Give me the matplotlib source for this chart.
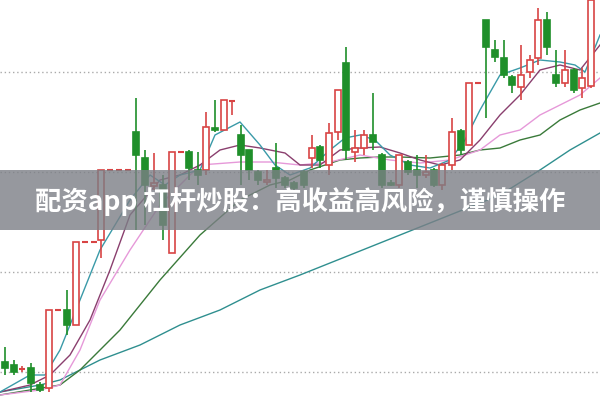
import matplotlib
matplotlib.use("Agg")
import matplotlib.pyplot as plt

plt.rcParams['font.family'] = ['Noto Sans CJK SC', 'DejaVu Sans']

# candles: x, open, close, high, low  (values read as screen y, converted below)
cx = [5, 14, 22, 31, 40, 49, 58, 67, 76, 85, 94, 101, 110, 119, 128, 136, 145, 154, 163, 172,
      181, 189, 198, 206, 215, 224, 232, 241, 249, 258, 267, 276, 285, 294, 304, 312, 320, 329,
      338, 346, 355, 364, 373, 382, 391, 399, 408, 417, 426, 434, 442, 452, 461, 469, 478, 486,
      495, 504, 512, 521, 530, 538, 547, 556, 565, 574, 582, 591]
y_open = [362, 365, 369, 368, 385, 388, 310, 310, 325, 242, 242, 240, 170, 170, 170, 132, 158, 186, 185, 253,
          152, 152, 170, 170, 128, 130, 101, 135, 150, 172, 182, 168, 178, 183, 172, 158, 147, 165,
          132, 63, 152, 148, 135, 155, 183, 185, 162, 170, 175, 170, 185, 165, 131, 145, 83, 20,
          50, 58, 77, 87, 72, 58, 20, 75, 83, 70, 88, 86]
y_close = [368, 372, 369, 383, 390, 310, 310, 325, 242, 242, 242, 170, 170, 170, 170, 155, 185, 183, 225, 152,
           152, 168, 175, 127, 130, 100, 100, 155, 170, 180, 180, 178, 185, 188, 185, 148, 160, 133,
           90, 150, 148, 135, 142, 185, 185, 155, 172, 175, 172, 185, 165, 132, 150, 83, 83, 47,
           57, 75, 85, 75, 60, 20, 47, 83, 70, 90, 78, 0]
y_high = [347, 360, 366, 363, 382, 310, 310, 290, 242, 242, 242, 170, 170, 170, 170, 98, 150, 153, 175, 152,
          152, 150, 152, 112, 100, 100, 100, 125, 150, 170, 170, 143, 176, 181, 170, 135, 145, 123,
          90, 47, 130, 130, 93, 153, 180, 155, 160, 155, 155, 168, 163, 118, 129, 83, 83, 20,
          40, 40, 75, 45, 55, 8, 12, 50, 50, 68, 68, 0]
y_low = [375, 375, 372, 392, 392, 392, 310, 335, 325, 242, 242, 258, 170, 170, 170, 230, 225, 190, 240, 253,
         152, 180, 185, 175, 132, 130, 115, 185, 180, 185, 185, 188, 188, 190, 188, 168, 168, 175,
         140, 160, 162, 155, 150, 188, 186, 188, 175, 188, 178, 187, 190, 170, 155, 145, 83, 118,
         62, 78, 93, 100, 78, 65, 55, 87, 87, 93, 98, 88]

# moving average lines: (x list, y list)
ma5_x = [0, 30, 45, 60, 80, 100, 130, 150, 165, 180, 200, 215, 240, 260, 275, 290, 310, 330, 345, 360,
         375, 390, 410, 430, 450, 465, 480, 500, 520, 540, 560, 575, 585, 600]
ma5_y = [392, 375, 375, 350, 300, 250, 200, 175, 185, 175, 170, 135, 122, 145, 165, 175, 168, 150, 138, 135,
         140, 155, 165, 168, 160, 140, 110, 75, 68, 60, 62, 65, 72, 35]
ma10_x = [0, 30, 50, 70, 90, 110, 130, 160, 180, 200, 220, 240, 260, 285, 300, 320, 340, 360, 380, 400,
          420, 440, 460, 480, 500, 520, 540, 560, 580, 600]
ma10_y = [392, 385, 375, 355, 320, 270, 215, 180, 175, 165, 150, 145, 148, 153, 165, 165, 150, 148, 147, 153,
          160, 165, 160, 140, 115, 95, 70, 65, 70, 45]
ma20_x = [0, 40, 60, 80, 100, 130, 160, 180, 200, 240, 270, 300, 330, 360, 390, 420, 450, 480, 500, 520,
          540, 560, 580, 600]
ma20_y = [395, 390, 385, 350, 300, 250, 205, 185, 165, 162, 162, 165, 162, 155, 160, 163, 160, 150, 135, 130,
          115, 105, 95, 78]
ma30_x = [0, 60, 80, 120, 160, 200, 240, 270, 290, 310, 340, 360, 380, 400, 430, 460, 480, 500, 520, 540,
          560, 580, 600]
ma30_y = [395, 385, 370, 330, 280, 235, 200, 185, 180, 170, 160, 158, 157, 157, 158, 155, 150, 148, 140, 135,
          120, 110, 103]
ma60_x = [0, 40, 60, 100, 140, 180, 220, 260, 300, 350, 400, 450, 500, 540, 570, 600]
ma60_y = [392, 385, 380, 360, 345, 325, 310, 290, 275, 255, 235, 215, 195, 170, 150, 133]

grid_levels = [72, 172, 272, 372]

def price(v):
    return 400 - v

fig = plt.figure(figsize=(6, 4), dpi=100)
ax = fig.add_axes([0, 0, 1, 1])
ax.set_xlim(0, 600)
ax.set_ylim(0, 400)
ax.axis("off")

for g in grid_levels:
    ax.axhline(price(g), color="#aaaaaa", lw=1, ls=(0, (1, 2)), zorder=0)

for xs, ys, col in [(ma60_x, ma60_y, "#2f8f8f"), (ma30_x, ma30_y, "#3a7a3a"),
                    (ma20_x, ma20_y, "#e699d9"), (ma10_x, ma10_y, "#8a3f6e"),
                    (ma5_x, ma5_y, "#3a9aa8")]:
    ax.plot(xs, [price(v) for v in ys], color=col, lw=1, zorder=1)

red = "#d84444"
green = "#1f8f2a"
w = 6.5
for x, o, c, h, l in zip(cx, y_open, y_close, y_high, y_low):
    o, c, h, l = price(o), price(c), price(h), price(l)
    col = red if c >= o else green
    ax.vlines(x, l, h, color=col, lw=1.2, zorder=2)
    lo, hi = min(o, c), max(o, c)
    if hi - lo < 1.5:
        ax.hlines(o, x - w / 2, x + w / 2, color=col, lw=1.5, zorder=3)
    else:
        ax.add_patch(plt.Rectangle((x - w / 2, lo), w, hi - lo, facecolor="white" if col == red else green,
                                   edgecolor=col, lw=1.2, zorder=3))

ax.add_patch(plt.Rectangle((0, price(230)), 600, 60, facecolor="#7c7f86", alpha=0.8, lw=0, zorder=5))
ax.text(300, price(202), "配资app 杠杆炒股：高收益高风险，谨慎操作", color="white", fontsize=19,
        fontweight="bold", ha="center", va="center", zorder=6)

fig.savefig("out.png")
